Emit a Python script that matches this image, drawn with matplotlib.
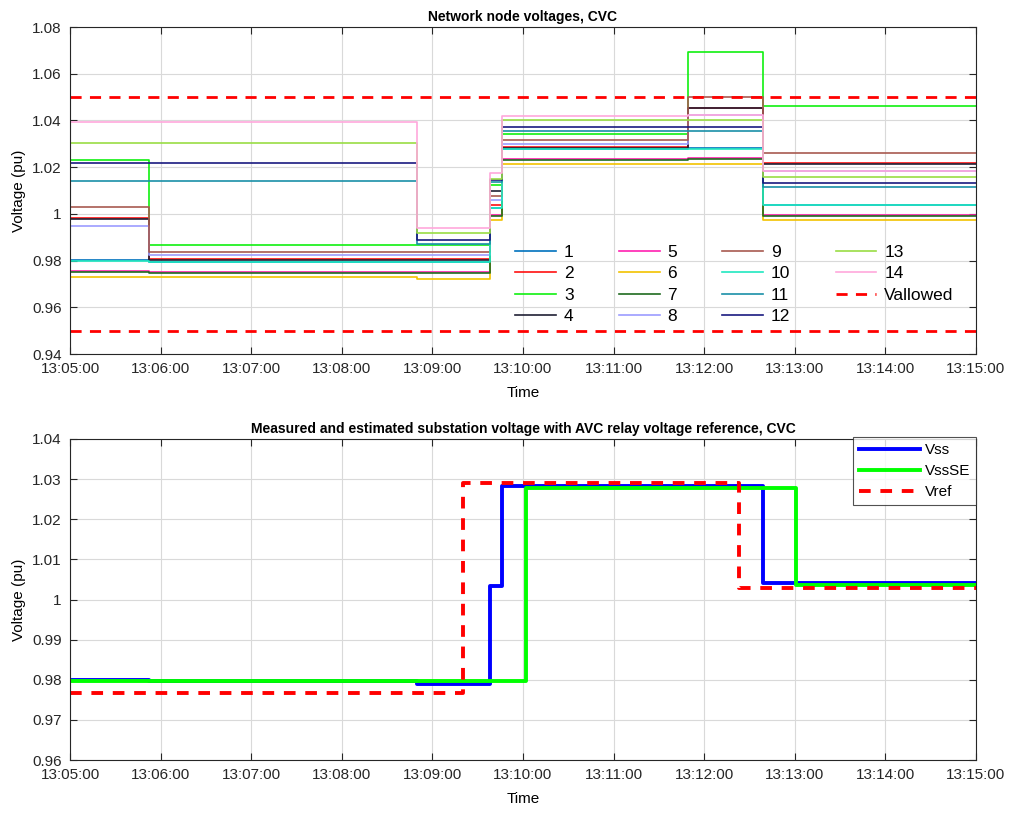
import matplotlib
matplotlib.use("Agg")
import matplotlib.pyplot as plt
import numpy as np

plt.rcParams['font.family'] = ['Liberation Sans', 'DejaVu Sans']

# time in seconds after 13:05:00
seg_t = [0, 52, 230, 278, 286, 409, 459, 600]
time_labels = ["13:05:00", "13:06:00", "13:07:00", "13:08:00", "13:09:00", "13:10:00",
               "13:11:00", "13:12:00", "13:13:00", "13:14:00", "13:15:00"]

# node voltages per segment (pu)
node_v = {
    "1":  [0.9801, 0.9795, 0.9795, 1.0026, 1.0278, 1.0281, 1.0040],
    "2":  [0.9981, 0.9806, 0.9806, 1.0038, 1.0286, 1.0452, 1.0216],
    "3":  [1.0230, 0.9865, 0.9865, 1.0125, 1.0343, 1.0695, 1.0462],
    "4":  [0.9978, 0.9801, 0.9801, 1.0100, 1.0284, 1.0452, 1.0214],
    "5":  [0.9754, 0.9750, 0.9750, 0.9996, 1.0235, 1.0238, 0.9996],
    "6":  [0.9730, 0.9728, 0.9722, 0.9972, 1.0214, 1.0213, 0.9972],
    "7":  [0.9750, 0.9746, 0.9746, 0.9989, 1.0230, 1.0233, 0.9989],
    "8":  [0.9948, 0.9822, 0.9822, 1.0060, 1.0300, 1.0423, 1.0185],
    "9":  [1.0029, 0.9836, 0.9836, 1.0075, 1.0317, 1.0502, 1.0262],
    "10": [0.9797, 0.9793, 0.9793, 1.0024, 1.0276, 1.0279, 1.0038],
    "11": [1.0141, 1.0141, 0.9872, 1.0135, 1.0354, 1.0354, 1.0114],
    "12": [1.0216, 1.0216, 0.9889, 1.0143, 1.0371, 1.0371, 1.0134],
    "13": [1.0303, 1.0303, 0.9917, 1.0150, 1.0400, 1.0400, 1.0160],
    "14": [1.0394, 1.0394, 0.9939, 1.0174, 1.0420, 1.0423, 1.0185],
}
node_colors = ["#0072BD", "#FF1010", "#10F010", "#202035", "#FF20B0", "#F2C200", "#1F6B1F",
               "#9C9CFF", "#A85A50", "#20E8C0", "#1A90A8", "#1A1A80", "#99DD44", "#FFA8DC"]
v_allowed = [0.95, 1.05]

# substation voltages
vss_t = [0, 52, 230, 278, 286, 459, 600]
vss_v = [0.9799, 0.9797, 0.9790, 1.0033, 1.0283, 1.0040, 1.0038]
vssse_t = [0, 302, 481, 600]
vssse_v = [0.9797, 1.0278, 1.0035, 1.0035]
vref_t = [0, 260, 443, 600]
vref_v = [0.9767, 1.0290, 1.0028, 1.0028]

fig = plt.figure(figsize=(10.16, 8.14), dpi=100)
ax1 = fig.add_axes([0.0689, 0.5651, 0.8917, 0.4017])
ax2 = fig.add_axes([0.0689, 0.0663, 0.8917, 0.3944])

for (name, vals), c in zip(node_v.items(), node_colors):
    ax1.step(seg_t, vals + [vals[-1]], where="post", color=c, lw=1.2, label=name)
ax1.axhline(v_allowed[1], color="#FF0000", ls=(0, (4, 3)), lw=2, label="Vallowed")
ax1.axhline(v_allowed[0], color="#FF0000", ls=(0, (4, 3)), lw=2)

ax2.step(vss_t, vss_v, where="post", color="#0000FF", lw=2.8, label="Vss")
ax2.step(vssse_t, vssse_v, where="post", color="#00FF00", lw=2.8, label="VssSE")
ax2.step(vref_t, vref_v, where="post", color="#FF0000", lw=2.8, ls=(0, (3, 2.5)), label="Vref")

ticks = np.arange(0, 601, 60)
for ax in (ax1, ax2):
    ax.set_xlim(0, 600)
    ax.set_xticks(ticks)
    ax.set_xticklabels(time_labels)
    ax.grid(True, color="#d9d9d9", lw=0.8)
    ax.set_axisbelow(True)
    ax.tick_params(direction="in", top=True, right=True, labelsize=11, length=5,
                   pad=6, labelcolor="#262626", color="#262626")
    ax.set_xlabel("Time", fontsize=11, labelpad=7)
    ax.set_ylabel("Voltage (pu)", fontsize=11, labelpad=4)
    for s in ax.spines.values():
        s.set_linewidth(0.8)
        s.set_color("#262626")

ax1.set_ylim(0.94, 1.08)
ax1.set_yticks(np.arange(0.94, 1.081, 0.02))
ax1.set_yticklabels(["0.94", "0.96", "0.98", "1", "1.02", "1.04", "1.06", "1.08"])
ax1.set_title("Network node voltages, CVC", fontsize=10, fontweight="bold", pad=4)
ax1.legend(ncol=4, loc="lower left", bbox_to_anchor=(0.484, 0.07), borderaxespad=0,
           frameon=False, fontsize=12.5, handlelength=2.35, handletextpad=0.45,
           columnspacing=2.6, labelspacing=0.36)

ax2.set_ylim(0.96, 1.04)
ax2.set_yticks(np.arange(0.96, 1.041, 0.01))
ax2.set_yticklabels(["0.96", "0.97", "0.98", "0.99", "1", "1.01", "1.02", "1.03", "1.04"])
ax2.set_title("Measured and estimated substation voltage with AVC relay voltage reference, CVC",
              fontsize=10, fontweight="bold", pad=4)
leg = ax2.legend(loc="upper right", bbox_to_anchor=(1.0, 1.005), borderaxespad=0,
                 fontsize=11, fancybox=False, edgecolor="#262626",
                 handlelength=4.0, handletextpad=0.3, labelspacing=0.45)
leg.get_frame().set_linewidth(0.8)

fig.savefig("out.png", dpi=100)
